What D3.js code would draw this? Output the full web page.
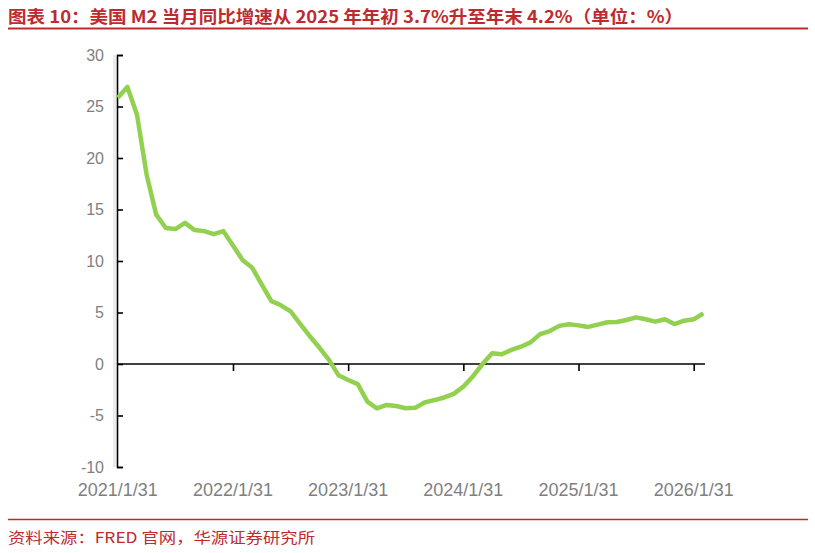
<!DOCTYPE html>
<html><head><meta charset="utf-8">
<script src="https://cdn.jsdelivr.net/npm/d3@7"></script>
<style>body{margin:0;background:#fff}svg{display:block}</style>
</head><body>
<svg id="c" width="815" height="553"></svg>
<script>
const titleText = "图表 10：美国 M2 当月同比增速从 2025 年年初 3.7%升至年末 4.2%（单位：%）";
const sourceText = "资料来源：FRED 官网，华源证券研究所";
const monthIndex = d3.range(62);
const m2Yoy = [25.85,26.9,24.2,18.4,14.5,13.2,13.1,13.7,13.0,12.9,12.6,12.9,
  11.5,10.1,9.35,7.7,6.1,5.7,5.1,3.9,2.7,1.6,0.4,-1.1,
  -1.55,-1.95,-3.65,-4.3,-3.98,-4.08,-4.3,-4.24,-3.72,-3.5,-3.25,-2.9,
  -2.2,-1.2,0.0,1.04,0.94,1.36,1.68,2.1,2.9,3.2,3.7,3.85,
  3.75,3.6,3.82,4.05,4.08,4.27,4.53,4.34,4.11,4.34,3.88,4.2,
  4.34,4.92];
const xTickIndex = [0,12,24,36,48,60];
const xTickLabels = ["2021/1/31","2022/1/31","2023/1/31","2024/1/31","2025/1/31","2026/1/31"];
const yTicks = [-10,-5,0,5,10,15,20,25,30];

const svg = d3.select("#c");
const red = "#bf2a2f";
const x = d3.scaleLinear().domain([0,61]).range([117.8,703.3]);
const y = d3.scaleLinear().domain([-10,30]).range([467,55]);

// title
svg.append("text").attr("x",8).attr("y",23).attr("fill",red)
  .attr("font-family","'Noto Sans CJK SC'").attr("font-weight","bold").attr("font-size",17)
  .attr("textLength",675).attr("lengthAdjust","spacingAndGlyphs").text(titleText);
svg.append("line").attr("x1",8).attr("x2",808).attr("y1",28.5).attr("y2",28.5)
  .attr("stroke",red).attr("stroke-width",2);

// footer
svg.append("line").attr("x1",8).attr("x2",808).attr("y1",519.5).attr("y2",519.5)
  .attr("stroke",red).attr("stroke-width",1.5);
svg.append("text").attr("x",8).attr("y",543).attr("fill",red)
  .attr("font-family","'Noto Sans CJK SC'").attr("font-size",15)
  .attr("textLength",307).attr("lengthAdjust","spacingAndGlyphs").text(sourceText);

// y axis shadow
svg.append("line").attr("x1",114.5).attr("x2",114.5).attr("y1",y(30)).attr("y2",y(-10))
  .attr("stroke","#ebebeb").attr("stroke-width",3);

// y axis
const yAxis = d3.axisRight(y).tickValues(yTicks).tickSize(6).tickFormat("");
const gy = svg.append("g").attr("transform","translate(117,0)").call(yAxis);
gy.select(".domain").attr("stroke","#000").attr("stroke-width",1.6);
gy.selectAll(".tick line").attr("stroke","#000").attr("stroke-width",1.6);
svg.append("g").selectAll("text").data(yTicks).join("text")
  .attr("x",104).attr("y",d=>y(d)).attr("dy","0.36em").attr("text-anchor","end")
  .attr("font-family","'Liberation Sans', Arial").attr("font-size",16).attr("fill","#7f7f7f")
  .text(d=>d);

// x axis at zero
const xAxis = d3.axisBottom(x).tickValues(xTickIndex.slice(1)).tickSize(7).tickFormat("");
const gx = svg.append("g").attr("transform",`translate(0,${y(0)})`).call(xAxis);
gx.select(".domain").attr("stroke","#000").attr("stroke-width",1.6).attr("d",`M117,0H705`);
gx.selectAll(".tick line").attr("stroke","#000").attr("stroke-width",1.6);
svg.append("g").selectAll("text").data(xTickIndex).join("text")
  .attr("x",(d)=>x(d)).attr("y",496).attr("text-anchor","middle")
  .attr("font-family","'Liberation Sans', Arial").attr("font-size",18).attr("fill","#7f7f7f")
  .text((d,i)=>xTickLabels[i]);

// line
const line = d3.line().x((d,i)=>x(monthIndex[i])).y(d=>y(d));
svg.append("path").datum(m2Yoy).attr("d",line).attr("fill","none")
  .attr("stroke","#92D050").attr("stroke-width",4.5).attr("stroke-linejoin","round");
</script>
</body></html>
